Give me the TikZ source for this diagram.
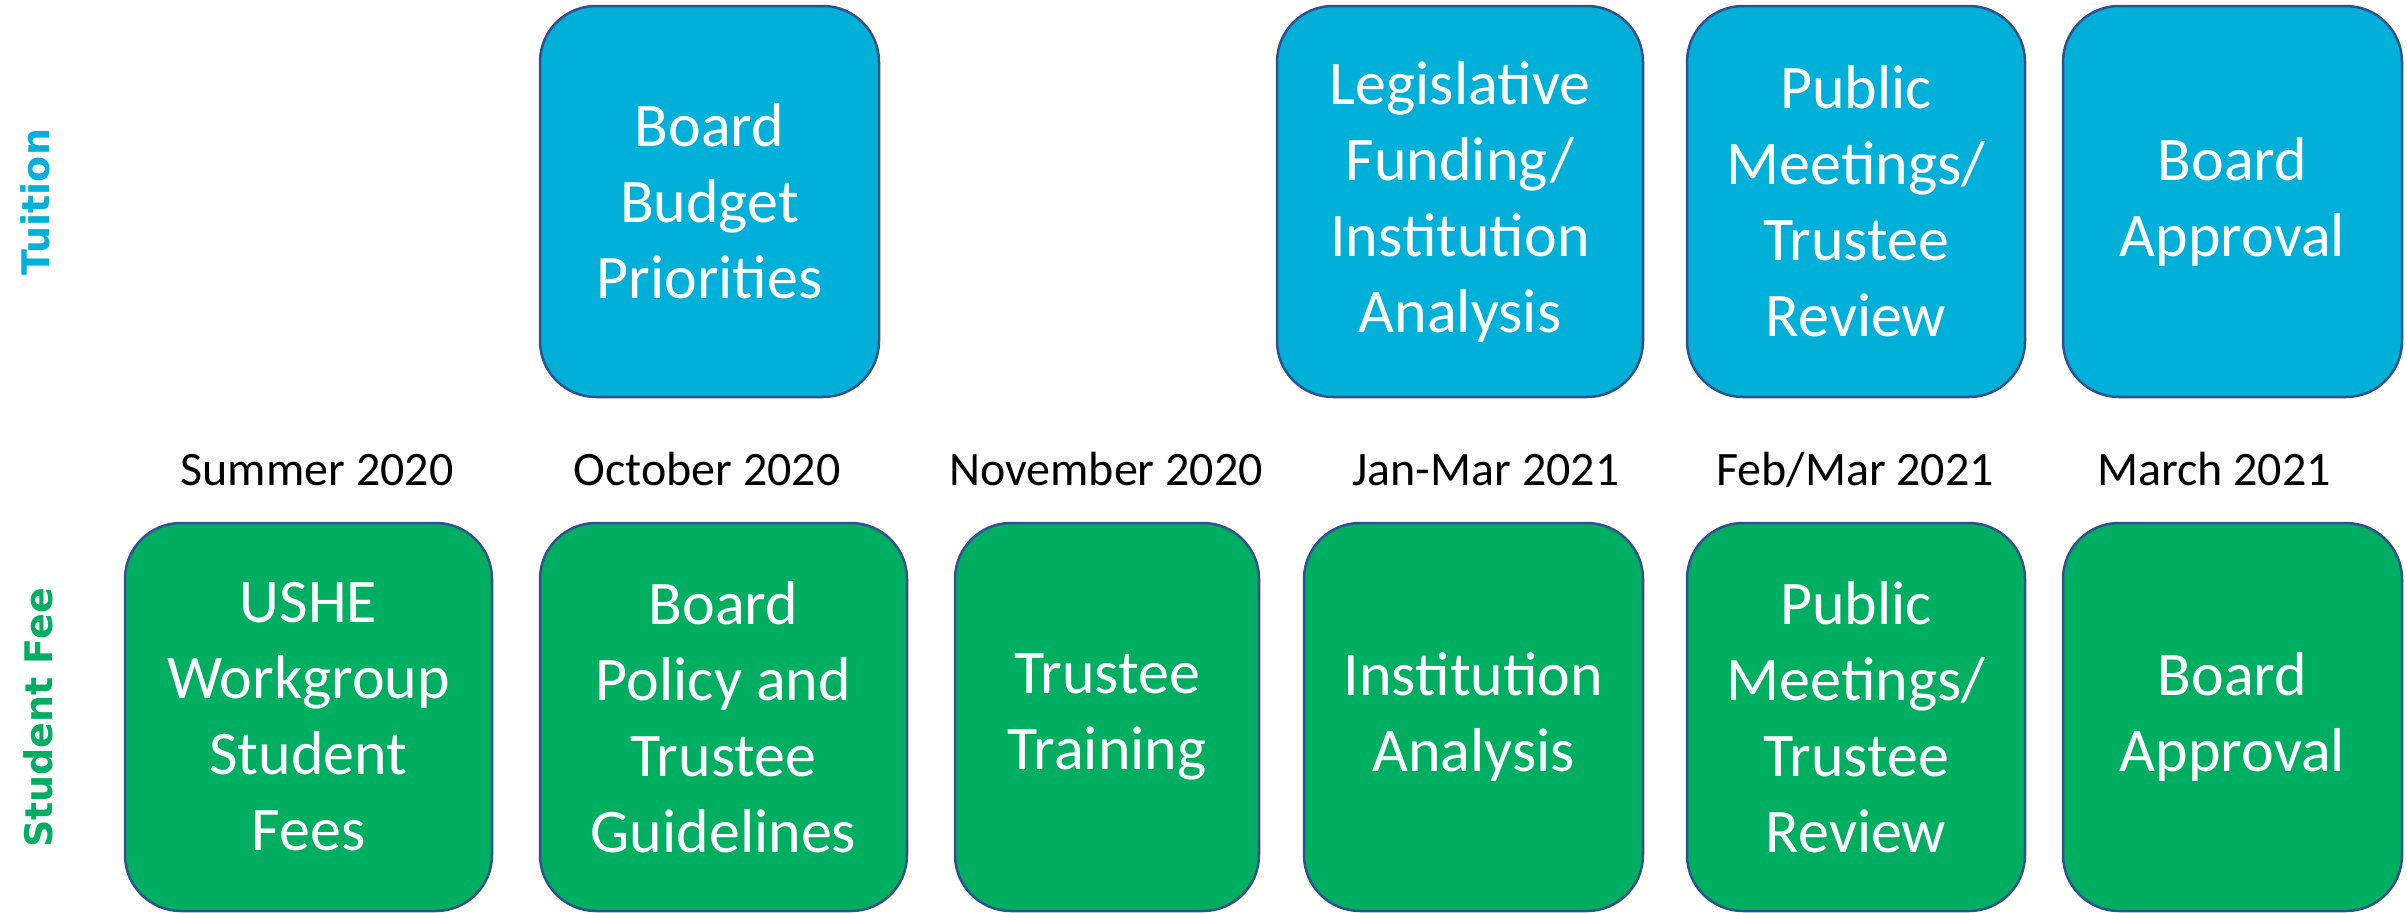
\documentclass[tikz,border=0pt]{standalone}
\usepackage{fontspec}
\setmainfont{Carlito}
\newfontfamily\lblfont{DejaVu Sans}
\definecolor{tuit}{HTML}{00B0D8}
\definecolor{fee}{HTML}{00AE62}
\definecolor{edgeblue}{HTML}{2F528F}
\begin{document}
\begin{tikzpicture}[x=1pt,y=-1pt,
  boxbase/.style={draw=edgeblue, line width=2.5pt, rounded corners=56pt, text=white,
    align=center, font=\fontsize{62}{76}\selectfont, inner sep=0pt},
  tbox/.style={boxbase, fill=tuit, minimum height=391pt},
  fbox/.style={boxbase, fill=fee, minimum height=388pt},
  datelbl/.style={anchor=base, font=\fontsize{48}{58}\selectfont, text=black},
  rowlbl/.style={rotate=90, font=\lblfont\bfseries\fontsize{38}{46}\selectfont}]
\useasboundingbox (0,0) rectangle (2407,913);
% Tuition row
\node[tbox, minimum width=339pt] (t2) at (709.5,201.5) {Board\\Budget\\Priorities};
\node[tbox, minimum width=366pt] (t4) at (1460,201.5) {Legislative\\Funding/\\Institution\\Analysis};
\node[tbox, minimum width=338pt] (t5) at (1856,201.5) {Public\\Meetings/\\Trustee\\Review};
\node[tbox, minimum width=339pt] (t6) at (2232.5,201.5) {Board\\Approval};
% Student fee row
\node[fbox, minimum width=367pt] (f1) at (308.5,717) {USHE\\Workgroup\\Student\\Fees};
\node[fbox, minimum width=367pt] (f2) at (723.5,717) {Board\\Policy and\\Trustee\\Guidelines};
\node[fbox, minimum width=304pt] (f3) at (1107,717) {Trustee\\Training};
\node[fbox, minimum width=339pt] (f4) at (1473.5,717) {Institution\\Analysis};
\node[fbox, minimum width=338pt] (f5) at (1856,717) {Public\\Meetings/\\Trustee\\Review};
\node[fbox, minimum width=339pt] (f6) at (2232.5,717) {Board\\Approval};
% Dates
\node[datelbl] (d1) at (317,485) {Summer 2020};
\node[datelbl] (d2) at (707,485) {October 2020};
\node[datelbl] (d3) at (1106,485) {November 2020};
\node[datelbl] (d4) at (1486,485) {Jan-Mar 2021};
\node[datelbl] (d5) at (1855,485) {Feb/Mar 2021};
\node[datelbl] (d6) at (2214,485) {March 2021};
% Row labels
\node[rowlbl, text=tuit] (lt) at (35,202) {Tuition};
\node[rowlbl, text=fee] (lf) at (38,718) {Student Fee};
\end{tikzpicture}
\end{document}
